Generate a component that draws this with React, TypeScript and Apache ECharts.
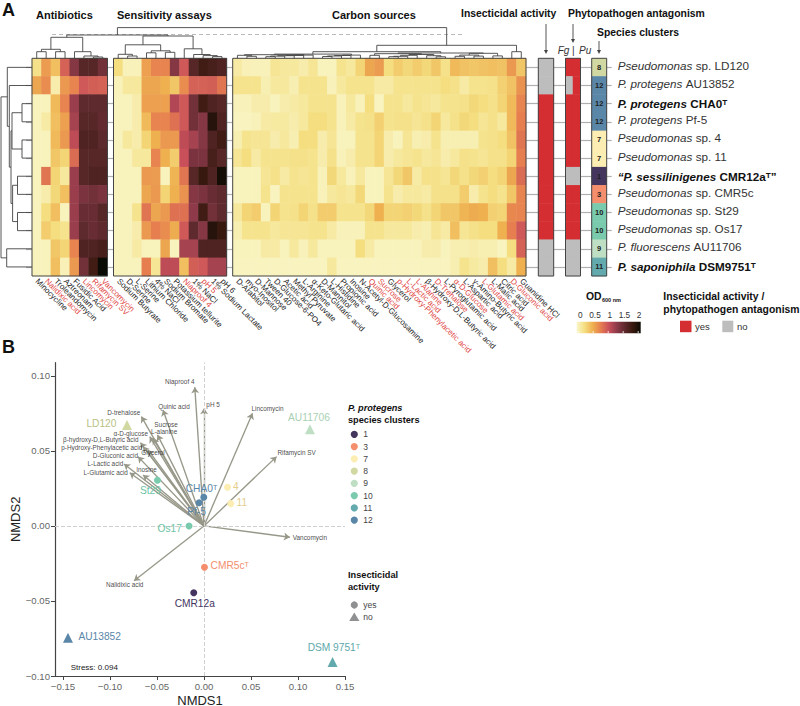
import React, { useEffect, useRef } from "react";
import * as echarts from "echarts";

const FONT = "Liberation Sans";

// ---------- heatmap data ----------
const antibiotics = ["Minocycline", "Nalidixic acid", "Troleandomycin", "Aztreonam", "Fusidic Acid", "Lincomycin", "Rifamycin SV", "Vancomycin"];
const assays = ["Sodium Butyrate", "D-Serine", "L-Serine", "Lithium Chloride", "4% NaCl", "Sodium Bromate", "Potassium tellurite", "Niaproof 4", "1% NaCl", "pH 5", "1% Sodium Lactate", "pH 6"];
const carbons = ["D-Arabitol", "myo-Inositol", "D-Mannose", "Tween 40", "D-Glucose-6-PO4", "Acetic acid", "Methyl Pyruvate", "L-Arginine", "α-Keto-Glutaric acid", "D-Mannitol", "L-Histidine", "Propionic acid", "Inosine", "N-Acetyl-D-Glucosamine", "Quinic acid", "Sucrose", "Glycerol", "p-Hydroxy-Phenylacetic acid", "L-Lactic acid", "L-Alanine", "β-Hydroxy-D,L-Butyric acid", "D-Trehalose", "L-Pyroglutamic acid", "α-D-Glucose", "L-Aspartic acid", "γ-Amino-Butyric acid", "L-Glutamic acid", "L-Malic acid", "Citric acid", "D-Gluconic acid", "Guanidine HCl"];
const redLabels = ["Nalidixic acid", "Lincomycin", "Rifamycin SV", "Vancomycin", "Niaproof 4", "pH 5", "Quinic acid", "Sucrose", "p-Hydroxy-Phenylacetic acid", "L-Lactic acid", "L-Alanine", "D-Trehalose", "α-D-Glucose", "L-Glutamic acid", "D-Gluconic acid"];

const antibioticRows = [
  [.22, .6, .42, .9, 1.3, 1.55, 1.55, 1.4],
  [.55, .68, .1, .62, .72, .95, .92, .9],
  [.04, .04, .45, .72, 1.2, 1.5, 1.5, 1.5],
  [.04, .12, .42, .58, 1.15, 1.55, 1.55, 1.48],
  [.04, .04, .45, .62, 1.05, 1.6, 1.6, 1.52],
  [.04, .04, .38, .3, .85, 1.55, 1.55, 1.55],
  [.04, .8, .3, .15, 1.2, 1.55, 1.6, 1.6],
  [.04, .1, .28, .42, 1.2, 1.35, 1.4, 1.35],
  [.04, .25, .42, .04, 1.2, 1.45, 1.45, 1.55],
  [.04, .35, .25, .2, 1.2, 1.5, 1.45, 1.5],
  [.04, .04, .38, .3, .72, 1.6, 1.6, 1.65],
  [.04, .04, .42, .06, .62, 1.4, 1.7, 2.0],
];
const assayRows = [
  [.25, .05, .05, .58, .72, .72, 1.3, .95, 1.55, 1.7, 1.65, 1.6],
  [.05, .15, .15, .55, .55, .5, .38, .68, .9, .9, .92, .8],
  [.04, .04, .1, .58, .58, .58, 1.1, .95, 1.4, 1.7, 1.6, 1.55],
  [.04, .04, .1, .45, .72, .72, .82, .95, 1.4, 1.3, 1.85, 1.6],
  [.04, .15, .1, .3, .5, .62, .62, 1.05, 1.15, 1.3, 1.6, 1.7],
  [.04, .04, .15, .15, .72, .5, .35, 1.0, 1.35, 1.35, 1.65, 1.55],
  [.04, .04, .04, .62, .6, .04, .48, .8, 1.55, 1.75, 1.6, 1.95],
  [.04, .04, .04, .55, .62, .3, .5, .65, 1.3, 1.35, 1.45, 1.5],
  [.04, .04, .2, .8, .55, .62, .82, .82, 1.25, 1.7, 1.4, 1.5],
  [.04, .04, .1, .62, .75, .68, .52, .95, 1.5, 1.3, 1.85, 1.75],
  [.04, .04, .12, .04, .04, .55, .04, 1.15, 1.15, 1.6, 1.6, 1.6],
  [.04, .04, .04, .75, .18, 1.05, 1.05, .42, .92, .95, 1.15, 1.15],
];
const carbonRows = [
  [.12, .06, .05, .05, .18, .15, .15, .1, .18, .04, .04, .2, .15, .3, .55, .6, .25, .35, .28, .35, .28, .38, .22, .45, .4, .38, .4, .42, .4, .62, .38],
  [.2, .2, .2, .08, .15, .15, .08, .2, .2, .2, .05, .15, .2, .2, .2, .12, .12, .2, .2, .2, .2, .2, .25, .22, .12, .2, .2, .22, .32, .4, .65],
  [.05, .05, .1, .1, .04, .1, .12, .15, .2, .2, .2, .05, .15, .05, .25, .03, .2, .2, .15, .2, .18, .15, .2, .2, .22, .28, .25, .22, .3, .45, .72],
  [.03, .03, .05, .12, .14, .14, .1, .15, .25, .25, .2, .05, .12, .2, .22, .32, .2, .22, .22, .18, .22, .3, .15, .22, .28, .25, .18, .22, .15, .45, .75],
  [.08, .2, .18, .18, .1, .15, .08, .25, .25, .1, .18, .04, .04, .2, .2, .3, .1, .04, .18, .08, .1, .2, .08, .08, .08, .08, .2, .22, .25, .4, .8],
  [.18, .25, .12, .2, .2, .2, .22, .22, .2, .1, .22, .05, .1, .2, .2, .3, .1, .15, .18, .2, .15, .18, .1, .15, .22, .2, .18, .22, .22, .3, .75],
  [.04, .04, .04, .18, .22, .12, .2, .18, .2, .05, .28, .15, .05, .15, .04, .04, .18, .28, .38, .12, .22, .22, .18, .28, .22, .28, .32, .25, .3, .55, .85],
  [.04, .04, .04, .2, .03, .2, .2, .2, .2, .05, .15, .18, .15, .28, .04, .04, .2, .1, .15, .15, .12, .22, .22, .22, .35, .1, .2, .25, .2, .38, .72],
  [.15, .3, .35, .04, .3, .2, .22, .3, .22, .35, .35, .2, .2, .2, .28, .5, .3, .3, .32, .28, .22, .3, .38, .38, .48, .52, .5, .32, .3, .7, .72],
  [.08, .2, .2, .2, .15, .18, .18, .18, .2, .2, .12, .05, .05, .05, .2, .2, .15, .15, .15, .1, .08, .18, .12, .42, .18, .22, .25, .25, .5, .75, .95],
  [.04, .04, .04, .12, .12, .04, .15, .05, .15, .04, .04, .04, .04, .25, .12, .04, .04, .04, .04, .04, .1, .1, .04, .08, .08, .1, .08, .08, .03, .25, .9],
  [.03, .03, .03, .03, .03, .03, .03, .03, .03, .03, .15, .03, .03, .03, .03, .03, .03, .03, .03, .03, .03, .03, .03, .08, .2, .14, .1, .42, .25, .12, .5],
];

// ---------- annotation columns (1 = yes, 0 = no) ----------
const insecticidal = [0, 0, 1, 1, 1, 1, 1, 1, 1, 1, 0, 0];
const fg = [1, 0, 1, 1, 1, 1, 0, 1, 1, 1, 0, 0];
const pu = [1, 1, 1, 1, 1, 1, 0, 1, 1, 1, 0, 0];
const rowClusters = [8, 12, 12, 12, 7, 7, 1, 3, 10, 10, 9, 11];
const speciesItalic = ["Pseudomonas", "P. protegens", "P. protegens", "P. protegens", "Pseudomonas", "Pseudomonas", "“P. sessilinigenes", "Pseudomonas", "Pseudomonas", "Pseudomonas", "P. fluorescens", "P. saponiphila"];
const speciesPlain = ["sp. LD120", "AU13852", "CHA0ᵀ", "Pf-5", "sp. 4", "sp. 11", "CMR12aᵀ”", "sp. CMR5c", "sp. St29", "sp. Os17", "AU11706", "DSM9751ᵀ"];
const speciesBold = [2, 6, 11];

const clusterIds = [1, 3, 7, 8, 9, 10, 11, 12];
const clusterColors = ["#44355F", "#F48E6D", "#FCEDB2", "#D2D8A1", "#BFDFC5", "#7ACBAD", "#62AAAD", "#5A86A8"];
const clusterTextColors = ["#44355F", "#F48E6D", "#E3CE8A", "#B9BF85", "#A9CFB3", "#6CC4A5", "#5EA8AA", "#5A86A8"];
const clusterColor = (c: number) => clusterColors[clusterIds.indexOf(c)];
const clusterText = (c: number) => clusterTextColors[clusterIds.indexOf(c)];

// ---------- dendrograms: [height, left, right], number = leaf ----------
const chain = (h: number[], first: number, ...rest: number[]) => {
  let n: any = first;
  rest.forEach((r, i) => { n = [h[i], n, r]; });
  return n;
};
const antibioticTree = [21, [9, [6.6, 0, 1], [6.6, 2, 3]], [6.6, 4, [2.3, 5, [1.3, 6, 7]]]];
const assayTree = [22.3,
  [13.5, [4, 8, [2.3, 9, 10]], [7.5, [5.5, 11, 12], [6, 13, 14]]],
  [9.5, 15, [3.8, 16, [2.7, 17, [1.7, 18, 19]]]]];
const carbonTree = [6.6,
  [4.2,
    [3.6, [3, 20, [2, 21, 22]], chain([1.6, 2.2, 2.6, 2.9, 3.2], 23, 24, 25, 26, 27, 28)],
    chain([1.8, 2.3, 2.8, 3.2], 29, 30, 31, 32, 33)],
  [5.3,
    [4.6, [3, 34, 35], [3.8, [3, [2, [1.6, 36, 37], 38], 39], [2.6, 40, [1.5, 41, 42]]]],
    [5, [3.2, [2, 43, 44], [2.2, 45, 46]], [2.4, 47, 48]]]];
const sampleTree = [30.7, [23.3, antibioticTree, assayTree], [13, carbonTree, [6.6, 49, 50]]];
const strainTree = [31,
  [24.7, 0, [22.7, 1, [21, [20, [10, 2, 3], [10, 4, 5]], [19.4, [14.5, 6, 7], [14.5, 8, 9]]]]],
  [25.3, 10, 11]];

// ---------- NMDS ----------
const pointNames = ["LD120", "AU13852", "CHA0ᵀ", "Pf-5", "4", "11", "CMR12a", "CMR5cᵀ", "St29", "Os17", "AU11706", "DSM 9751ᵀ"];
const pointX = [-.0819, -.1447, -.0002, -.0052, .025, .0285, -.0109, .0005, -.0495, -.0159, .1127, .1368];
const pointY = [.0673, -.0745, .0191, .0155, .0258, .0149, -.0445, -.0275, .0305, 0, .0644, -.0907];
const pointCluster = [8, 12, 12, 12, 7, 7, 1, 3, 10, 10, 9, 11];
const pointInsecticidal = [0, 0, 1, 1, 1, 1, 1, 1, 1, 1, 0, 0];

const vectorNames = ["Niaproof 4", "pH 5", "Quinic acid", "D-trehalose", "Sucrose", "L-alanine", "α-D-glucose", "β-hydroxy-D,L-Butyric acid", "p-Hydroxy-Phenylacetic acid", "Glycerol", "D-Gluconic acid", "L-Lactic acid", "Inosine", "L-Glutamic acid", "Lincomycin", "Rifamycin SV", "Vancomycin", "Nalidixic acid"];
const vectorX = [-.0098, .0001, -.0436, -.0666, -.0495, -.0542, -.0577, -.0676, -.0648, -.0595, -.0702, -.0851, -.0648, -.079, .0516, .0772, .0914, -.0744];
const vectorY = [.0925, .0785, .0773, .0729, .0607, .0584, .0595, .0555, .0529, .0507, .0462, .0413, .034, .0355, .0751, .0462, -.0075, -.0365];

const pointLabelOffsets = [[-25.6, -1], [31.7, -1.7], [-2.3, -9], [-2.6, 9], [8.3, -.6], [11, -.7], [1, 10.3], [25.3, -1.6], [-7, 10.7], [-19.3, 2.3], [-1, -12], [1.3, -14.7]];
const vectorLabelOffsets = [[-15, -5.3], [9, -4], [11, -3.7], [-17.7, -4], [8.6, -10.3], [11, -6.6], [-19, -3.4], [-39.7, -2.7], [-41.3, 1.3], [5, 3], [-22.6, -1], [-18.6, 0], [3.4, -5], [-24, 0], [15, -5], [20, -4], [20, 0], [-9.3, 3.6]];

const xTicks = [-.15, -.1, -.05, 0, .05, .1, .15];
const yTicks = [-.1, -.05, 0, .05, .1];

// ---------- colours ----------
const heatStops = ["#F9F6C8", "#F4DE80", "#EFB050", "#E67E4F", "#C9505A", "#8E3A4A", "#5F2A2E", "#38190F", "#0B0B05"];
const RED = "#D42E32";
const GREY = "#BDBDBD";

// ---------- layout ----------
const TOP = 58.3, HEIGHT = 217.7;
const rows = Array.from({ length: 12 }, (_, i) => String(i));
const panels = [
  { left: 32, width: 75.5, names: antibiotics, data: antibioticRows, tick: 6 },
  { left: 113.5, width: 113.2, names: assays, data: assayRows, tick: 6.5 },
  { left: 232.7, width: 293.3, names: carbons, data: carbonRows, tick: 6 },
];
const annot = [
  { left: 538.3, width: 15.4, tick: 12 },
  { left: 565.5, width: 15, tick: 12 },
  { left: 591.7, width: 15, tick: 11 },
];

const hm = (rowsData: number[][]) => rowsData.flatMap((r, y) => r.map((v, x) => [x, y, v]));

const leafX = (i: number) => {
  if (i < 8) return panels[0].left + (i + .5) * (panels[0].width / 8) - 32;
  if (i < 20) return panels[1].left + (i - 8 + .5) * (panels[1].width / 12) - 32;
  return panels[2].left + (i - 20 + .5) * (panels[2].width / 31) - 32;
};
const treeSegs = (node: any, pos: (i: number) => number) => {
  const segs: number[][] = [];
  const walk = (n: any): [number, number] => {
    if (typeof n === "number") return [pos(n), 0];
    const [xa, ha] = walk(n[1]);
    const [xb, hb] = walk(n[2]);
    segs.push([xa, n[0], xb, n[0]], [xa, ha, xa, n[0]], [xb, hb, xb, n[0]]);
    return [(xa + xb) / 2, n[0]];
  };
  walk(node);
  return segs;
};
const segRender = (_: any, api: any) => {
  const a = api.coord([api.value(0), api.value(1)]);
  const b = api.coord([api.value(2), api.value(3)]);
  return { type: "line", shape: { x1: a[0], y1: a[1], x2: b[0], y2: b[1] }, style: { stroke: "#444", lineWidth: 0.9 } };
};

const T = (text: string, x: number, y: number, fontSize: number, extra: any = {}) => ({
  type: "text", x, y, z: 20,
  style: { text, fontSize, fontFamily: FONT, fill: "#111", align: "left", verticalAlign: "middle", ...extra },
});
const arrow = (x: number, y1: number, y2: number) => ([
  { type: "line", z: 20, shape: { x1: x, y1, x2: x, y2: y2 - 3 }, style: { stroke: "#555", lineWidth: 1 } },
  { type: "polygon", z: 20, shape: { points: [[x - 2, y2 - 4], [x + 2, y2 - 4], [x, y2]] }, style: { fill: "#444" } },
]);

function buildOption() {
  const grids: any[] = [], xAxes: any[] = [], yAxes: any[] = [], series: any[] = [];
  const hiddenY = (gridIndex: number, tick: number, position = "left") => ({
    type: "category", gridIndex, data: rows, inverse: true, position,
    axisLine: { show: false }, axisLabel: { show: false },
    axisTick: { show: true, alignWithLabel: true, length: tick, lineStyle: { color: "#B0B0B0", width: 1.2 } },
  });
  const G = (g: any) => grids.push({ ...g, outerBoundsMode: "none" });

  panels.forEach((p, i) => {
    G({ left: p.left, top: TOP, width: p.width, height: HEIGHT });
    xAxes.push({
      type: "category", gridIndex: i,
      data: p.names.map((n) => ({ value: n, textStyle: { color: redLabels.includes(n) ? "#E0453F" : "#222" } })),
      axisLine: { show: false }, axisTick: { show: false },
      axisLabel: { interval: 0, rotate: -45, fontSize: 8, margin: 4, hideOverlap: false, fontFamily: FONT },
    });
    yAxes.push(hiddenY(i, p.tick));
    series.push({ type: "heatmap", xAxisIndex: i, yAxisIndex: i, data: hm(p.data), progressive: 0 });
  });

  const annotCols = [[insecticidal], [fg, pu]];
  annot.forEach((a, j) => {
    const i = j + 3;
    G({ left: a.left, top: TOP, width: a.width, height: HEIGHT });
    const cols = j === 2 ? [rowClusters] : annotCols[j];
    xAxes.push({ type: "category", gridIndex: i, data: cols.map((_, k) => String(k)), axisLine: { show: false }, axisTick: { show: false }, axisLabel: { show: false } });
    yAxes.push(hiddenY(i, a.tick));
    const data = cols.flatMap((c, x) => c.map((v, y) => [x, y, v]));
    series.push({
      type: "heatmap", xAxisIndex: i, yAxisIndex: i, data, progressive: 0,
      label: j === 2 ? { show: true, fontSize: 7.5, fontWeight: "bold", color: "#222", fontFamily: FONT, formatter: (p: any) => String(p.value[2]) } : { show: false },
    });
  });

  // top dendrogram: grid 6
  G({ left: 32, top: 27.6, width: 494, height: TOP - 27.6 });
  xAxes.push({ type: "value", gridIndex: 6, min: 0, max: 494, show: false });
  yAxes.push({ type: "value", gridIndex: 6, min: 0, max: TOP - 27.6, show: false });
  series.push({ type: "custom", xAxisIndex: 6, yAxisIndex: 6, renderItem: segRender, data: treeSegs(sampleTree, leafX), encode: { x: [0, 2], y: [1, 3] }, silent: true });

  // left dendrogram: grid 7
  G({ left: 0, top: TOP, width: 32, height: HEIGHT });
  xAxes.push({ type: "value", gridIndex: 7, min: 0, max: 32, inverse: true, show: false });
  yAxes.push({ type: "value", gridIndex: 7, min: 0, max: 12, inverse: true, show: false });
  series.push({
    type: "custom", xAxisIndex: 7, yAxisIndex: 7, renderItem: segRender,
    data: treeSegs(strainTree, (i) => i + .5).map((s) => [s[1], s[0], s[3], s[2]]),
    encode: { x: [0, 2], y: [1, 3] }, silent: true,
  });

  // NMDS: grid 8
  G({ left: 55, top: 362.7, width: 290, height: 313.3 });
  const axisBase = { axisLine: { show: true, onZero: false, lineStyle: { color: "#444", width: 1.2 } }, splitLine: { show: false } };
  const fmt = (v: number) => (v < 0 ? "−" : "") + Math.abs(v).toFixed(2);
  xAxes.push({
    type: "value", gridIndex: 8, min: -.1585, max: .15, ...axisBase,
    axisTick: { show: true, length: 4, customValues: xTicks, lineStyle: { color: "#444" } },
    axisLabel: { customValues: xTicks, formatter: fmt, fontSize: 9.6, color: "#666", margin: 5, fontFamily: FONT },
    name: "NMDS1", nameLocation: "middle", nameGap: 17.5, nameTextStyle: { fontSize: 13, color: "#222", fontFamily: FONT },
  });
  yAxes.push({
    type: "value", gridIndex: 8, min: -.1, max: .1088, ...axisBase,
    axisTick: { show: true, length: 4, customValues: yTicks, lineStyle: { color: "#444" } },
    axisLabel: { customValues: yTicks, formatter: fmt, fontSize: 9.6, color: "#666", margin: 5, fontFamily: FONT },
    name: "NMDS2", nameLocation: "middle", nameGap: 29, nameTextStyle: { fontSize: 13, color: "#222", fontFamily: FONT },
  });
  series.push({
    type: "scatter", xAxisIndex: 8, yAxisIndex: 8, data: [], silent: true,
    markLine: {
      silent: true, symbol: "none", label: { show: false }, animation: false,
      lineStyle: { color: "#CFCFCF", type: "dashed", width: 1 },
      data: [{ xAxis: 0 }, { yAxis: 0 }],
    },
  });
  series.push({
    type: "lines", coordinateSystem: "cartesian2d", xAxisIndex: 8, yAxisIndex: 8, z: 3,
    symbol: ["none", "arrow"], symbolSize: [0, 6],
    lineStyle: { color: "#98988A", width: 1.35, opacity: 1, curveness: 0 },
    data: vectorNames.map((_, i) => ({ coords: [[0, 0], [vectorX[i], vectorY[i]]] })),
    silent: true,
  });
  series.push({
    type: "scatter", xAxisIndex: 8, yAxisIndex: 8, symbolSize: 0, z: 4, silent: true,
    data: vectorNames.map((n, i) => ({
      name: n, value: [vectorX[i], vectorY[i]],
      label: { show: true, position: "inside", offset: vectorLabelOffsets[i], formatter: n, fontSize: 6.4, color: "#111", fontFamily: FONT, align: "center", verticalAlign: "middle" },
    })),
  });
  const pts = (flag: number) => pointNames.map((n, i) => ({ n, i })).filter((p) => pointInsecticidal[p.i] === flag).map(({ n, i }) => ({
    name: n, value: [pointX[i], pointY[i]],
    itemStyle: { color: clusterColor(pointCluster[i]), opacity: 1 },
    label: { show: true, position: "inside", offset: pointLabelOffsets[i], formatter: n, fontSize: 10.2, color: clusterText(pointCluster[i]), fontFamily: FONT, align: "center", verticalAlign: "middle" },
  }));
  series.push({ type: "scatter", xAxisIndex: 8, yAxisIndex: 8, symbol: "circle", symbolSize: 7, z: 5, data: pts(1), silent: true });
  series.push({ type: "scatter", xAxisIndex: 8, yAxisIndex: 8, symbol: "triangle", symbolSize: 10, z: 5, data: pts(0), silent: true });

  // species labels: second y axis on species grid (grid 5)
  yAxes.push({
    type: "category", gridIndex: 5, data: rows, inverse: true, position: "right",
    axisLine: { show: false },
    axisTick: { show: true, alignWithLabel: true, length: 5, lineStyle: { color: "#B0B0B0", width: 1.2 } },
    axisLabel: {
      show: true, margin: 11, interval: 0, fontFamily: FONT,
      formatter: (_: string, i: number) => {
        const b = speciesBold.includes(i);
        return `{${b ? "bi" : "i"}|${speciesItalic[i]}} {${b ? "b" : "n"}|${speciesPlain[i]}}`;
      },
      rich: {
        i: { fontStyle: "italic", fontSize: 11.7, color: "#333", fontFamily: FONT, padding: [0, 0, 4, 0] },
        n: { fontSize: 11.7, color: "#333", fontFamily: FONT, padding: [0, 0, 4, 0] },
        bi: { fontStyle: "italic", fontWeight: "bold", fontSize: 11.7, color: "#111", fontFamily: FONT },
        b: { fontWeight: "bold", fontSize: 11.7, color: "#111", fontFamily: FONT },
      },
    },
  });

  // ---------- graphic chrome ----------
  const frames = [...panels, ...annot].map((p) => ({
    type: "rect", z: 15, shape: { x: p.left, y: TOP, width: p.width, height: HEIGHT },
    style: { fill: "none", stroke: "#444", lineWidth: 1 },
  }));
  const barLeft = 576.7, barW = 64;
  const bold = { fontWeight: "bold" };
  const graphic: any[] = [
    ...frames,
    T("A", 2, 10, 18, bold),
    T("B", 2, 347, 18, bold),
    T("Antibiotics", 36, 14.6, 11, bold),
    T("Sensitivity assays", 117, 14.6, 11, bold),
    T("Carbon sources", 332, 14.6, 11, bold),
    T("Insecticidal activity", 461, 13, 10.4, bold),
    T("Phytopathogen antagonism", 568, 13, 10.4, bold),
    T("Species clusters", 597, 32, 10.4, bold),
    T("Fg", 557.7, 50, 10, { fontStyle: "italic", fill: "#333" }),
    T("|", 572, 50, 10, { fill: "#333" }),
    T("Pu", 579, 50, 10, { fontStyle: "italic", fill: "#333" }),
    ...arrow(546, 24, 54), ...arrow(573, 24, 43), ...arrow(599, 41, 54),
    { type: "line", z: 1, shape: { x1: 52, y1: 34.5, x2: 462, y2: 34.5 }, style: { stroke: "#AAA", lineWidth: 0.8, lineDash: [4, 3] } },
    // OD colour bar
    T("OD", 586, 296, 10.4, bold),
    T("600 nm", 602, 299.5, 5.5, bold),
    {
      type: "rect", z: 20, shape: { x: barLeft, y: 321.7, width: barW, height: 11.6 },
      style: { fill: new echarts.graphic.LinearGradient(0, 0, 1, 0, heatStops.map((color, i) => ({ offset: i / (heatStops.length - 1), color }))) },
    },
    ...[0, .5, 1, 1.5, 2].flatMap((v, i) => [
      T(String(v), 580.3 + v * 29.4, 315, 8.3, { align: "center", fill: "#333" }),
      { type: "line", z: 21, shape: { x1: 578.2 + i * 15, y1: 331, x2: 578.2 + i * 15, y2: 333.3 }, style: { stroke: "#FFF", lineWidth: .8 } },
    ]),
    T("Insecticidal activity /", 663.3, 296, 10.4, bold),
    T("phytopathogen antagonism", 663.3, 309.3, 10.4, bold),
    { type: "rect", z: 20, shape: { x: 680, y: 320.7, width: 11.5, height: 11.5 }, style: { fill: RED } },
    T("yes", 695, 326.5, 9.5, { fill: "#333" }),
    { type: "rect", z: 20, shape: { x: 722.3, y: 320.7, width: 11, height: 11.5 }, style: { fill: GREY } },
    T("no", 737, 326.5, 9.5, { fill: "#333" }),
    // NMDS legends
    T("Stress: 0.094", 70.7, 667.7, 8, { fill: "#222" }),
    T("P. protegens", 348, 407.7, 9.2, { ...bold, fontStyle: "italic" }),
    T("species clusters", 348, 420, 9.2, bold),
    ...clusterIds.flatMap((c, i) => {
      const y = 434.3 + i * 12.25;
      return [
        { type: "circle", z: 20, shape: { cx: 354.3, cy: y, r: 3.6 }, style: { fill: clusterColors[i] } },
        T(String(c), 363.3, y, 8.5, { fill: "#444" }),
      ];
    }),
    T("Insecticidal", 348, 575, 9.2, bold),
    T("activity", 348, 587, 9.2, bold),
    { type: "circle", z: 20, shape: { cx: 354.3, cy: 605, r: 3.6 }, style: { fill: "#8F9092" } },
    T("yes", 363.3, 605, 8.5, { fill: "#444" }),
    { type: "polygon", z: 20, shape: { points: [[354.3, 612.5], [359.4, 621], [349.2, 621]] }, style: { fill: "#8F9092" } },
    T("no", 363.3, 617, 8.5, { fill: "#444" }),
  ];

  return {
    animation: false,
    backgroundColor: "#fff",
    textStyle: { fontFamily: FONT },
    grid: grids, xAxis: xAxes, yAxis: yAxes, series, graphic,
    visualMap: [
      {
        show: false, type: "continuous", min: 0, max: 2, seriesIndex: [0, 1, 2], dimension: 2,
        inRange: { color: heatStops },
      },
      {
        show: false, type: "piecewise", seriesIndex: [3, 4], dimension: 2,
        pieces: [{ value: 0, color: GREY }, { value: 1, color: RED }],
      },
      {
        show: false, type: "piecewise", seriesIndex: [5], dimension: 2,
        pieces: clusterIds.map((c, i) => ({ value: c, color: clusterColors[i] })),
      },
    ],
  };
}

export default function App() {
  const ref = useRef<HTMLDivElement>(null);
  useEffect(() => {
    const chart = echarts.init(ref.current!, null, { renderer: "svg" });
    chart.setOption(buildOption() as any);
    return () => chart.dispose();
  }, []);
  return <div ref={ref} style={{ position: "fixed", left: 0, top: 0, width: 800, height: 706 }} />;
}
